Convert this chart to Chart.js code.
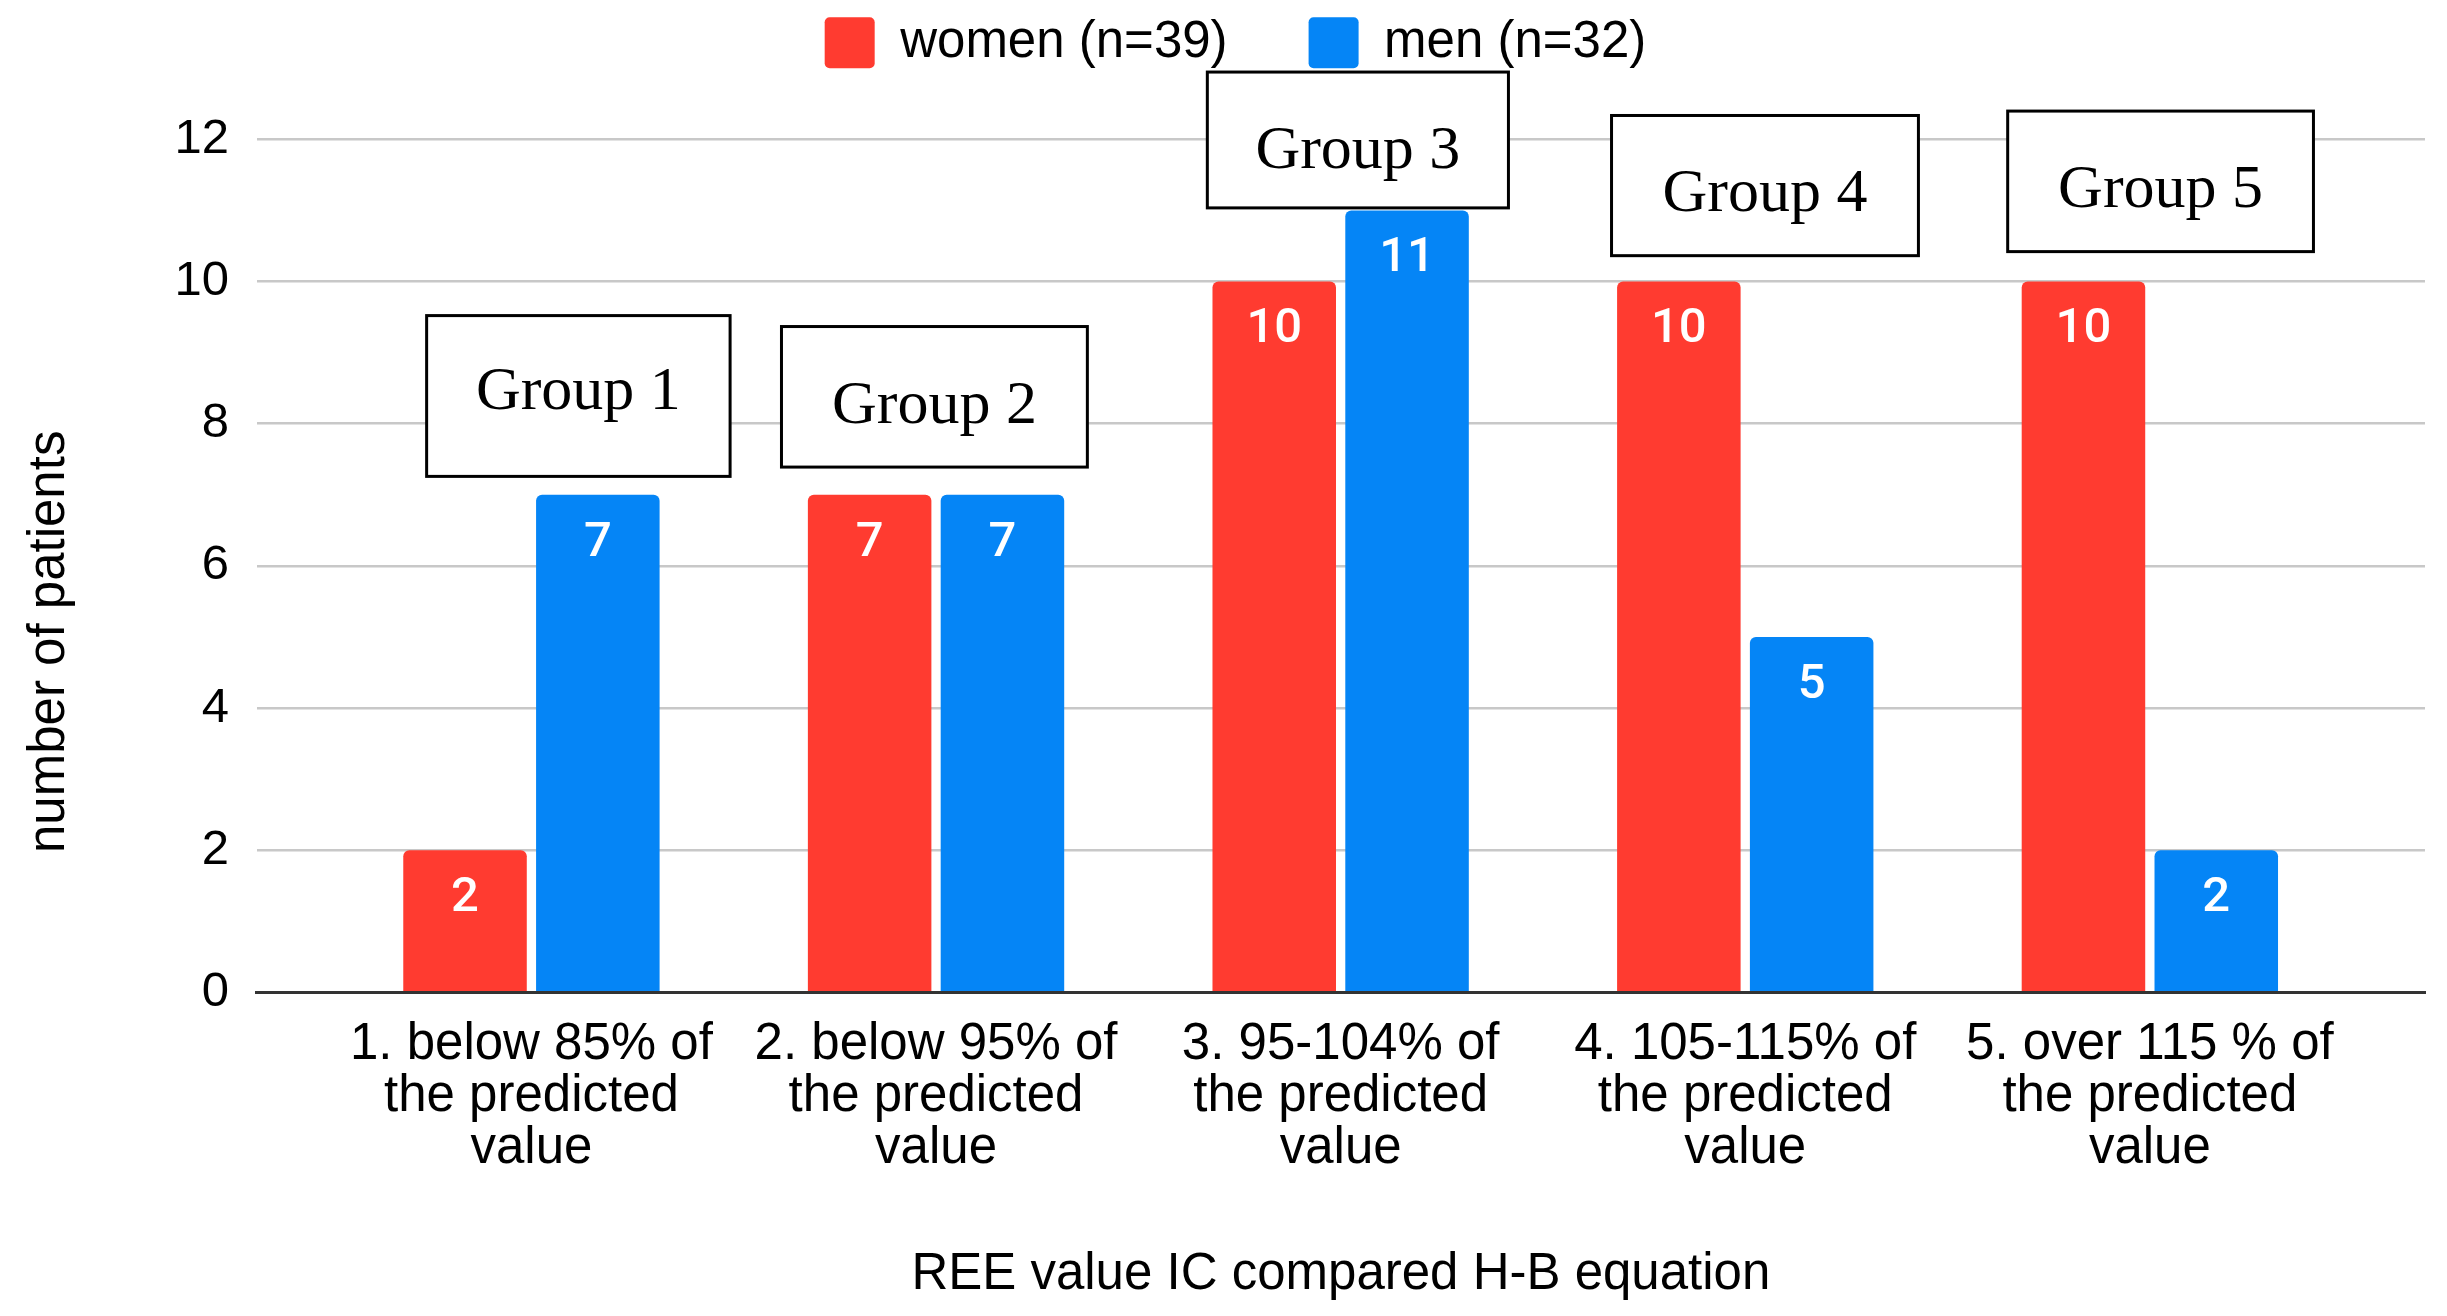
<!DOCTYPE html>
<html>
<head>
<meta charset="utf-8">
<script src="https://cdn.jsdelivr.net/npm/chart.js@4.4.1/dist/chart.umd.min.js"></script>
<style>
  html, body { margin: 0; padding: 0; background: #ffffff; }
  #wrap { width: 2447px; height: 1316px; position: relative; }
</style>
</head>
<body>
<div id="wrap"><canvas id="chart"></canvas></div>
<script>
// ---------------- data ----------------
const categories = [
  ['1. below 85% of', 'the predicted', 'value'],
  ['2. below 95% of', 'the predicted', 'value'],
  ['3. 95-104% of', 'the predicted', 'value'],
  ['4. 105-115% of', 'the predicted', 'value'],
  ['5. over 115 % of', 'the predicted', 'value']
];
const seriesNames = ['women (n=39)', 'men (n=32)'];
const womenValues = [2, 7, 10, 10, 10];
const menValues = [7, 7, 11, 5, 2];
const yTicks = [0, 2, 4, 6, 8, 10, 12];
const groupLabels = ['Group 1', 'Group 2', 'Group 3', 'Group 4', 'Group 5'];
const xTitle = 'REE value IC compared H-B equation';
const yTitle = 'number of patients';

// ---------------- annotation placement (in data units) ----------------
const groupBoxLayout = [
  { x0: 0.741,  x1: 1.491,  top: 9.52,   bottom: 7.258,  textY: 8.44 },
  { x0: 1.618,  x1: 2.374,  top: 9.366,  bottom: 7.389,  textY: 8.245 },
  { x0: 2.6705, x1: 3.4147, top: 12.946, bottom: 11.035, textY: 11.83 },
  { x0: 3.6695, x1: 4.428,  top: 12.335, bottom: 10.363, textY: 11.22 },
  { x0: 4.6486, x1: 5.4043, top: 12.397, bottom: 10.42,  textY: 11.28 }
];
// the y-axis title sits lower than the plot centre in the original
const yTitleShift = 152;

const SANS = '"Liberation Sans", Arial, Helvetica, sans-serif';
Chart.defaults.font.family = SANS;
Chart.defaults.color = '#000000';

const barValueLabels = {
  id: 'barValueLabels',
  afterDatasetsDraw(chart) {
    const ctx = chart.ctx;
    ctx.save();
    ctx.font = '500 49px Roboto, "Liberation Sans", sans-serif';
    ctx.fillStyle = '#ffffff';
    ctx.textAlign = 'center';
    ctx.textBaseline = 'alphabetic';
    chart.data.datasets.forEach((ds, di) => {
      const meta = chart.getDatasetMeta(di);
      meta.data.forEach((bar, i) => {
        ctx.fillText(String(ds.data[i].y), bar.x, bar.y + 61);
      });
    });
    ctx.restore();
  }
};

const groupBoxes = {
  id: 'groupBoxes',
  afterDraw(chart) {
    const ctx = chart.ctx;
    const xs = chart.scales.x, ys = chart.scales.y;
    ctx.save();
    groupBoxLayout.forEach((g, i) => {
      const l = xs.getPixelForValue(g.x0), r = xs.getPixelForValue(g.x1);
      const t = ys.getPixelForValue(g.top), b = ys.getPixelForValue(g.bottom);
      ctx.fillStyle = '#ffffff';
      ctx.fillRect(l, t, r - l, b - t);
      ctx.lineWidth = 3;
      ctx.strokeStyle = '#000000';
      ctx.strokeRect(l, t, r - l, b - t);
      ctx.fillStyle = '#000000';
      ctx.font = '62px "Liberation Serif", "Times New Roman", serif';
      ctx.textAlign = 'center';
      ctx.textBaseline = 'middle';
      ctx.fillText(groupLabels[i], (l + r) / 2, ys.getPixelForValue(g.textY));
    });
    ctx.restore();
  }
};

const yTitlePlacement = {
  id: 'yTitlePlacement',
  afterLayout(chart) {
    const ys = chart.scales.y;
    ys.bottom = ys.bottom + yTitleShift;
  }
};

const toPoints = (vals) => vals.map((v, i) => ({ x: i + 1, y: v }));

new Chart(document.getElementById('chart'), {
  type: 'bar',
  data: {
    datasets: [
      {
        label: seriesNames[0],
        data: toPoints(womenValues),
        backgroundColor: '#ff3b30',
        borderWidth: 0,
        borderRadius: 6,
        borderSkipped: 'start',
        categoryPercentage: 0.6565,
        barPercentage: 0.93,
        xAxisID: 'x',
        yAxisID: 'y'
      },
      {
        label: seriesNames[1],
        data: toPoints(menValues),
        backgroundColor: '#0585f6',
        borderWidth: 0,
        borderRadius: 6,
        borderSkipped: 'start',
        categoryPercentage: 0.6565,
        barPercentage: 0.93,
        xAxisID: 'x',
        yAxisID: 'y'
      }
    ]
  },
  options: {
    responsive: true,
    maintainAspectRatio: false,
    animation: false,
    layout: { padding: { top: -63.7, left: 46, right: 22, bottom: 0 } },
    plugins: {
      legend: {
        display: true,
        position: 'top',
        align: 'center',
        labels: {
          font: { size: 51, family: SANS },
          color: '#000000',
          boxWidth: 50,
          boxHeight: 51,
          padding: 81,
          useBorderRadius: true,
          borderRadius: 5
        }
      },
      tooltip: { enabled: false },
      title: { display: false }
    },
    scales: {
      x: {
        type: 'linear',
        position: 'bottom',
        min: 0.321,
        max: 5.68,
        offset: false,
        grid: { display: false, drawTicks: false },
        border: { display: true, color: '#333333', width: 3 },
        afterBuildTicks(scale) {
          scale.ticks = categories.map((c, i) => ({ value: i + 1 }));
        },
        ticks: {
          autoSkip: false,
          maxRotation: 0,
          minRotation: 0,
          padding: 27,
          color: '#000000',
          font: { size: 51, lineHeight: 1.02 },
          callback: (v) => categories[Math.round(v) - 1] || ''
        },
        title: {
          display: true,
          text: xTitle,
          color: '#000000',
          font: { size: 51, lineHeight: 1.2 },
          padding: { top: 42, bottom: 10.4 }
        }
      },
      xTop: {
        type: 'linear',
        position: 'top',
        display: true,
        grid: { display: false, drawTicks: false },
        border: { display: false },
        ticks: { display: false },
        afterFit(scale) { scale.height = 61; }
      },
      y: {
        type: 'linear',
        position: 'left',
        min: 0,
        max: 12,
        grid: {
          color: (c) => (c.tick && c.tick.value === 0) ? 'rgba(0,0,0,0)' : '#c8c8c8',
          lineWidth: 2.5,
          drawTicks: false
        },
        border: { display: false },
        afterBuildTicks(scale) {
          scale.ticks = yTicks.map((v) => ({ value: v }));
        },
        ticks: {
          padding: 27.7,
          color: '#000000',
          font: { size: 49 }
        },
        afterFit(scale) { scale.width = 210.7; },
        title: {
          display: true,
          text: yTitle,
          color: '#000000',
          font: { size: 51, lineHeight: 1.0 },
          padding: { top: -21.5, bottom: 0 }
        }
      }
    }
  },
  plugins: [barValueLabels, groupBoxes, yTitlePlacement]
});
</script>
</body>
</html>
